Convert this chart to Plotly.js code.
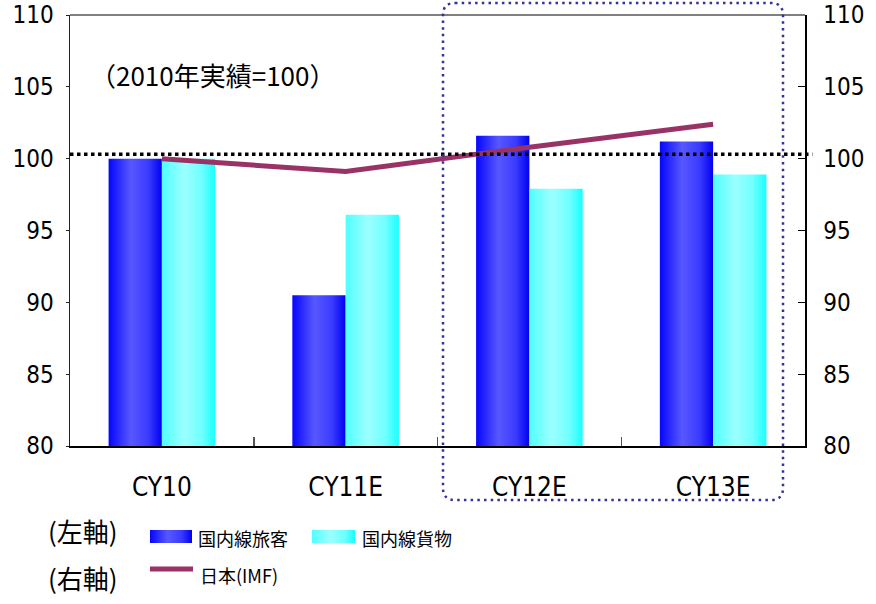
<!DOCTYPE html>
<html>
<head>
<meta charset="utf-8">
<script src="https://cdn.plot.ly/plotly-3.0.1.min.js"></script>
<style>
html,body{margin:0;padding:0;background:#fff;}
#chart{width:876px;height:604px;}
</style>
</head>
<body>
<div id="chart"></div>
<script>
// ---- data ----
const categories = ['CY10', 'CY11E', 'CY12E', 'CY13E'];
const passengerName = '国内線旅客';
const passengerValues = [100.0, 90.5, 101.6, 101.2];
const cargoName = '国内線貨物';
const cargoValues = [100.0, 96.1, 97.9, 98.9];
const imfName = '日本(IMF)';
const imfValues = [100.0, 99.1, 100.8, 102.4];
const referenceLevel = 100.3;
const yTicks = [80, 85, 90, 95, 100, 105, 110];
const noteText = '（2010年実績=100）';
const leftAxisLabel = '(左軸)';
const rightAxisLabel = '(右軸)';

const NARROW = '"Liberation Sans Narrow", "Arial Narrow", "DejaVu Sans Condensed", "Liberation Sans", sans-serif';
const CJK = '"Noto Sans CJK JP", "Noto Sans", sans-serif';

const traces = [
  {type: 'bar', x: categories, y: passengerValues, name: passengerName,
   marker: {color: '#0000ff', line: {width: 0}}, yaxis: 'y', showlegend: false},
  {type: 'bar', x: categories, y: cargoValues, name: cargoName,
   marker: {color: '#00ffff', line: {width: 0}}, yaxis: 'y', showlegend: false},
  {type: 'scatter', mode: 'lines', x: categories, y: imfValues, name: imfName,
   line: {color: '#993366', width: 5}, yaxis: 'y2', showlegend: false}
];

const TOP = 15, BOT = 446;
function px2x(p){ return (p - 70) / 735; }
function py2y(p){ return (BOT - p) / (BOT - TOP); }

// rounded dotted frame around the forecast years
const L = px2x(443), R = px2x(783), T = py2y(3), B = py2y(500);
const rx = 12 / 735, ry = 12 / (BOT - TOP);
const framePath = `M ${L+rx},${T} L ${R-rx},${T} Q ${R},${T} ${R},${T-ry} L ${R},${B+ry} Q ${R},${B} ${R-rx},${B} L ${L+rx},${B} Q ${L},${B} ${L},${B+ry} L ${L},${T-ry} Q ${L},${T} ${L+rx},${T} Z`;

const layout = {
  width: 876, height: 604,
  margin: {l: 70, r: 71, t: TOP, b: 604 - BOT, pad: 0},
  paper_bgcolor: '#ffffff', plot_bgcolor: '#ffffff',
  showlegend: false,
  barmode: 'group', bargap: 0.42, bargroupgap: 0,
  font: {family: NARROW, color: '#000', size: 24},
  xaxis: {
    type: 'category', categoryorder: 'array', categoryarray: categories,
    showline: true, linecolor: '#000', linewidth: 2,
    ticks: 'inside', tickson: 'boundaries', ticklen: 9, tickcolor: '#555', tickwidth: 1.5,
    tickfont: {family: NARROW, size: 26, color: '#000'},
    ticklabelstandoff: 17,
    showgrid: false, zeroline: false, fixedrange: true
  },
  yaxis: {
    range: [80, 110], tickvals: yTicks, ticktext: yTicks.map(String),
    showline: true, linecolor: '#222', linewidth: 1.5,
    ticks: 'outside', ticklen: 3, tickcolor: '#222',
    tickfont: {family: NARROW, size: 24, color: '#000'},
    ticklabelstandoff: 7, ticklabeloverflow: 'allow',
    showgrid: false, zeroline: false, fixedrange: true
  },
  yaxis2: {
    range: [80, 110], tickvals: yTicks, ticktext: yTicks.map(String),
    overlaying: 'y', side: 'right',
    showline: true, linecolor: '#000', linewidth: 1.5,
    ticks: 'inside', ticklen: 7, tickcolor: '#000',
    tickfont: {family: NARROW, size: 24, color: '#000'},
    ticklabelstandoff: 12, ticklabeloverflow: 'allow',
    showgrid: false, zeroline: false, fixedrange: true
  },
  shapes: [
    // top frame line
    {type: 'line', xref: 'paper', yref: 'paper', x0: 0, x1: 1, y0: 1, y1: 1,
     line: {color: '#808080', width: 2}, layer: 'above'},
    // reference dotted line
    {type: 'line', xref: 'paper', yref: 'y', x0: 0, x1: 1.01, y0: referenceLevel, y1: referenceLevel,
     line: {color: '#000', width: 3.5, dash: '3.5px,3.5px'}, layer: 'above'},
    // forecast frame
    {type: 'path', xref: 'paper', yref: 'paper', path: framePath,
     line: {color: '#333399', width: 2.5, dash: '2.5px,4.2px'}, layer: 'above'},
    // legend swatches
    {type: 'rect', xref: 'paper', yref: 'paper', x0: px2x(150), x1: px2x(192), y0: py2y(530), y1: py2y(543),
     fillcolor: '#0000ff', line: {width: 0}},
    {type: 'rect', xref: 'paper', yref: 'paper', x0: px2x(312), x1: px2x(355), y0: py2y(530), y1: py2y(543),
     fillcolor: '#00ffff', line: {width: 0}},
    {type: 'line', xref: 'paper', yref: 'paper', x0: px2x(150), x1: px2x(193), y0: py2y(569), y1: py2y(569),
     line: {color: '#993366', width: 5}}
  ],
  annotations: [
    {xref: 'paper', yref: 'paper', x: px2x(88), y: py2y(74), xanchor: 'left', yanchor: 'middle',
     text: noteText, showarrow: false, font: {family: CJK, size: 26, color: '#000'}},
    {xref: 'paper', yref: 'paper', x: px2x(83), y: py2y(530), xanchor: 'center', yanchor: 'middle',
     text: leftAxisLabel, showarrow: false, font: {family: CJK, size: 26, color: '#000'}},
    {xref: 'paper', yref: 'paper', x: px2x(83), y: py2y(577), xanchor: 'center', yanchor: 'middle',
     text: rightAxisLabel, showarrow: false, font: {family: CJK, size: 26, color: '#000'}},
    {xref: 'paper', yref: 'paper', x: px2x(196), y: py2y(538), xanchor: 'left', yanchor: 'middle',
     text: passengerName, showarrow: false, font: {family: CJK, size: 18, color: '#000'}},
    {xref: 'paper', yref: 'paper', x: px2x(360), y: py2y(538), xanchor: 'left', yanchor: 'middle',
     text: cargoName, showarrow: false, font: {family: CJK, size: 18, color: '#000'}},
    {xref: 'paper', yref: 'paper', x: px2x(198), y: py2y(575), xanchor: 'left', yanchor: 'middle',
     text: imfName, showarrow: false, font: {family: CJK, size: 18, color: '#000'}}
  ]
};

function applyGradients(gd){
  const svg = gd.querySelector('svg.main-svg');
  if (!svg) return;
  const NS = 'http://www.w3.org/2000/svg';
  let defs = svg.querySelector('defs');
  if (!defs) { defs = document.createElementNS(NS, 'defs'); svg.insertBefore(defs, svg.firstChild); }
  function grad(id, stops){
    if (svg.querySelector('#' + id)) return;
    const g = document.createElementNS(NS, 'linearGradient');
    g.setAttribute('id', id);
    g.setAttribute('x1', '0'); g.setAttribute('y1', '0');
    g.setAttribute('x2', '1'); g.setAttribute('y2', '0');
    stops.forEach(s => {
      const st = document.createElementNS(NS, 'stop');
      st.setAttribute('offset', s[0]);
      st.setAttribute('stop-color', s[1]);
      g.appendChild(st);
    });
    defs.appendChild(g);
  }
  grad('gradBlue', [['0', '#0505ff'], ['0.42', '#5858ff'], ['0.75', '#3a3aff'], ['1', '#0000f2']]);
  grad('gradCyan', [['0', '#50ffff'], ['0.42', '#9cffff'], ['0.75', '#70ffff'], ['1', '#18ffff']]);
  gd.querySelectorAll('path').forEach(p => {
    const f = p.style.fill;
    if (f === 'rgb(0, 0, 255)') p.style.fill = 'url(#gradBlue)';
    else if (f === 'rgb(0, 255, 255)') p.style.fill = 'url(#gradCyan)';
  });
}

const gd = document.getElementById('chart');
Plotly.newPlot(gd, traces, layout, {displayModeBar: false, staticPlot: true}).then(() => {
  applyGradients(gd);
  gd.on('plotly_afterplot', () => applyGradients(gd));
});
</script>
</body>
</html>
